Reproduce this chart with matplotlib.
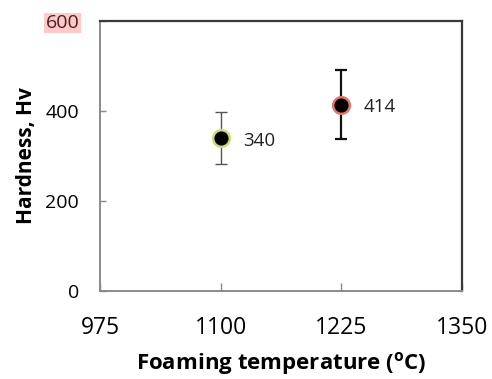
import matplotlib
matplotlib.use("Agg")
import matplotlib.pyplot as plt

# values
temps = [1100, 1225]
hardness = [340, 414]
hardness_err = [58, 77]
edge_colors = ["#c9dc78", "#e57373"]
bar_colors = ["#555555", "#111111"]
bar_widths = [1.0, 1.6]

x_ticks = [975, 1100, 1225, 1350]
y_ticks = [0, 200, 400, 600]

plt.rcParams["font.family"] = ["Open Sans", "DejaVu Sans"]
plt.rcParams["mathtext.fontset"] = "custom"
plt.rcParams["mathtext.rm"] = "Open Sans"
plt.rcParams["mathtext.bf"] = "Open Sans:bold"

fig = plt.figure(figsize=(4.92, 3.79), dpi=100)
ax = fig.add_axes([0.2033, 0.2322, 0.7357, 0.7124])

for t, h, e, ec, bc, bw in zip(temps, hardness, hardness_err, edge_colors, bar_colors, bar_widths):
    ax.errorbar(t, h, yerr=e, fmt="none", ecolor=bc, elinewidth=bw, capsize=4.5, capthick=bw, zorder=2)
    ax.plot(t, h, "o", ms=12, mfc="black", mec=ec, mew=1.8, zorder=3)
    ax.annotate(str(h), (t, h), xytext=(16, -2), textcoords="offset points",
                ha="left", va="center", fontsize=13.5, color="#222222")

ax.set_xlim(975, 1350)
ax.set_ylim(0, 600)
ax.set_xticks(x_ticks)
ax.set_yticks(y_ticks)
ax.tick_params(axis="x", direction="in", length=6, width=1, color="#888888", labelsize=16.5, pad=18)
ax.tick_params(axis="y", direction="in", length=4, width=1, color="#888888", labelsize=14, pad=15)

for s in ["left", "bottom"]:
    ax.spines[s].set_color("#8a8a8a")
    ax.spines[s].set_linewidth(1.4)
for s in ["top", "right"]:
    ax.spines[s].set_color("#3a3a3a")
    ax.spines[s].set_linewidth(1.6)

ax.set_xlabel(r"Foaming temperature ($\mathbf{^{o}}$C)", fontsize=16, fontweight="bold", labelpad=7)
ax.set_ylabel("Hardness, Hv", fontsize=15, fontweight="bold", labelpad=6)

# the top tick label is highlighted in the original
lbl = ax.get_yticklabels()[-1]
lbl.set_color("#4a1f1f")
lbl.set_bbox(dict(facecolor="#ffc9c9", edgecolor="none", pad=1))

fig.savefig("out.png", dpi=100)
